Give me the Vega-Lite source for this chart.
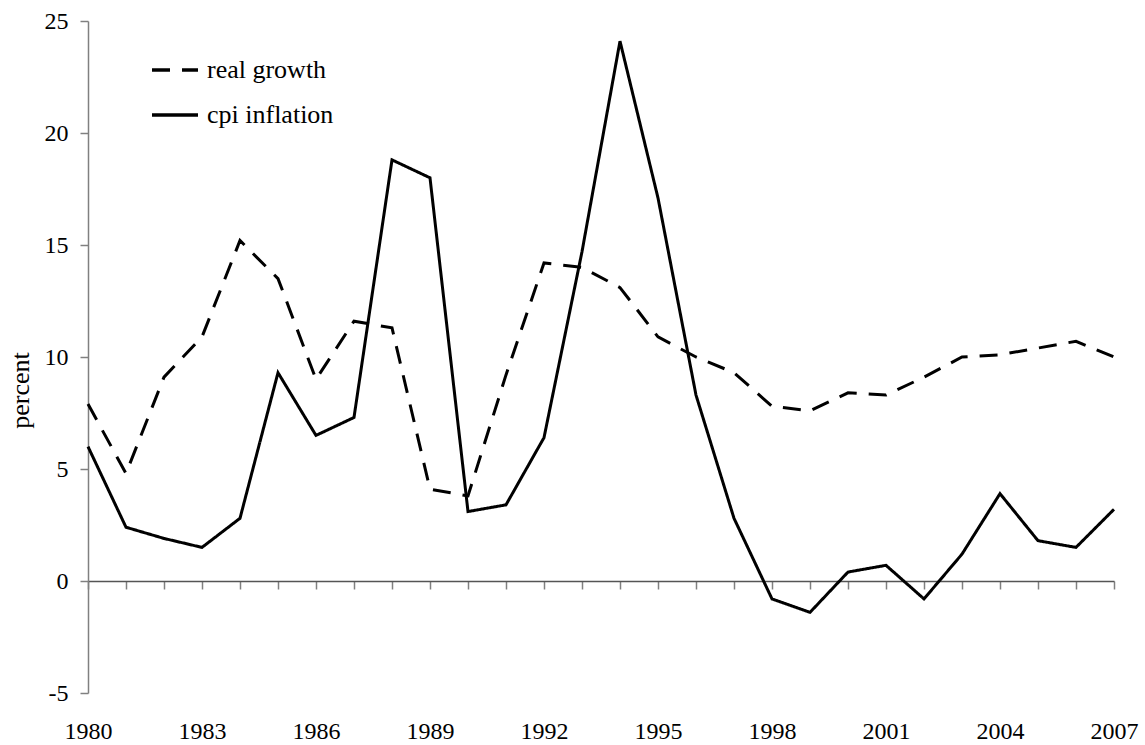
{
  "$schema": "https://vega.github.io/schema/vega-lite/v6.json",
  "width": 1026,
  "height": 672,
  "autosize": {"type": "none"},
  "padding": {"left": 88, "top": 21, "right": 31, "bottom": 52},
  "background": "white",
  "config": {
    "view": {"stroke": null},
    "font": "Liberation Serif",
    "axis": {"grid": false, "labelFont": "Liberation Serif", "titleFont": "Liberation Serif", "labelColor": "black", "titleColor": "black", "domainColor": "#808080", "tickColor": "#808080"}
  },
  "data": {
    "values": [
      {"year": 1980, "series": "real growth", "value": 7.9},
      {"year": 1981, "series": "real growth", "value": 4.8},
      {"year": 1982, "series": "real growth", "value": 9.1},
      {"year": 1983, "series": "real growth", "value": 10.9},
      {"year": 1984, "series": "real growth", "value": 15.2},
      {"year": 1985, "series": "real growth", "value": 13.5},
      {"year": 1986, "series": "real growth", "value": 9.0},
      {"year": 1987, "series": "real growth", "value": 11.6},
      {"year": 1988, "series": "real growth", "value": 11.3},
      {"year": 1989, "series": "real growth", "value": 4.1},
      {"year": 1990, "series": "real growth", "value": 3.8},
      {"year": 1991, "series": "real growth", "value": 9.2},
      {"year": 1992, "series": "real growth", "value": 14.2},
      {"year": 1993, "series": "real growth", "value": 14.0},
      {"year": 1994, "series": "real growth", "value": 13.1},
      {"year": 1995, "series": "real growth", "value": 10.9},
      {"year": 1996, "series": "real growth", "value": 10.0},
      {"year": 1997, "series": "real growth", "value": 9.3},
      {"year": 1998, "series": "real growth", "value": 7.8},
      {"year": 1999, "series": "real growth", "value": 7.6},
      {"year": 2000, "series": "real growth", "value": 8.4},
      {"year": 2001, "series": "real growth", "value": 8.3},
      {"year": 2002, "series": "real growth", "value": 9.1},
      {"year": 2003, "series": "real growth", "value": 10.0},
      {"year": 2004, "series": "real growth", "value": 10.1},
      {"year": 2005, "series": "real growth", "value": 10.4},
      {"year": 2006, "series": "real growth", "value": 10.7},
      {"year": 2007, "series": "real growth", "value": 10.0},
      {"year": 1980, "series": "cpi inflation", "value": 6.0},
      {"year": 1981, "series": "cpi inflation", "value": 2.4},
      {"year": 1982, "series": "cpi inflation", "value": 1.9},
      {"year": 1983, "series": "cpi inflation", "value": 1.5},
      {"year": 1984, "series": "cpi inflation", "value": 2.8},
      {"year": 1985, "series": "cpi inflation", "value": 9.3},
      {"year": 1986, "series": "cpi inflation", "value": 6.5},
      {"year": 1987, "series": "cpi inflation", "value": 7.3},
      {"year": 1988, "series": "cpi inflation", "value": 18.8},
      {"year": 1989, "series": "cpi inflation", "value": 18.0},
      {"year": 1990, "series": "cpi inflation", "value": 3.1},
      {"year": 1991, "series": "cpi inflation", "value": 3.4},
      {"year": 1992, "series": "cpi inflation", "value": 6.4},
      {"year": 1993, "series": "cpi inflation", "value": 14.7},
      {"year": 1994, "series": "cpi inflation", "value": 24.1},
      {"year": 1995, "series": "cpi inflation", "value": 17.1},
      {"year": 1996, "series": "cpi inflation", "value": 8.3},
      {"year": 1997, "series": "cpi inflation", "value": 2.8},
      {"year": 1998, "series": "cpi inflation", "value": -0.8},
      {"year": 1999, "series": "cpi inflation", "value": -1.4},
      {"year": 2000, "series": "cpi inflation", "value": 0.4},
      {"year": 2001, "series": "cpi inflation", "value": 0.7},
      {"year": 2002, "series": "cpi inflation", "value": -0.8},
      {"year": 2003, "series": "cpi inflation", "value": 1.2},
      {"year": 2004, "series": "cpi inflation", "value": 3.9},
      {"year": 2005, "series": "cpi inflation", "value": 1.8},
      {"year": 2006, "series": "cpi inflation", "value": 1.5},
      {"year": 2007, "series": "cpi inflation", "value": 3.2}
    ]
  },
  "mark": {"type": "line", "strokeWidth": 3, "strokeJoin": "miter", "strokeCap": "butt"},
  "encoding": {
    "x": {
      "field": "year",
      "type": "quantitative",
      "scale": {"domain": [1980, 2007], "nice": false, "zero": false},
      "axis": {
        "title": null,
        "offset": -112,
        "values": [1980,1981,1982,1983,1984,1985,1986,1987,1988,1989,1990,1991,1992,1993,1994,1995,1996,1997,1998,1999,2000,2001,2002,2003,2004,2005,2006,2007],
        "labelExpr": "(datum.value - 1980) % 3 == 0 ? toString(datum.value) : ''",
        "labelFontSize": 24,
        "labelPadding": 130,
        "labelBaseline": "top",
        "labelOverlap": false,
        "labelFlush": false,
        "tickSize": 8,
        "tickWidth": 1.5,
        "domainWidth": 1.5,
        "domainColor": "#555555"
      }
    },
    "y": {
      "field": "value",
      "type": "quantitative",
      "scale": {"domain": [-5, 25], "nice": false, "zero": false},
      "axis": {
        "title": "percent",
        "titleFontSize": 26,
        "titleFontWeight": "normal",
        "titleAngle": -90,
        "titleX": -68,
        "titleY": 369,
        "titleAlign": "center",
        "titleBaseline": "middle",
        "values": [-5, 0, 5, 10, 15, 20, 25],
        "labelExpr": "toString(datum.value)",
        "labelFontSize": 24,
        "labelPadding": 12,
        "tickSize": 8,
        "tickWidth": 1.5,
        "domainWidth": 1.5
      }
    },
    "color": {
      "field": "series",
      "type": "nominal",
      "scale": {"domain": ["real growth", "cpi inflation"], "range": ["black", "black"]},
      "legend": {
        "title": null,
        "orient": "none",
        "legendX": 62,
        "legendY": 24,
        "symbolType": "stroke",
        "symbolSize": 2116,
        "symbolStrokeWidth": 3.5,
        "labelFontSize": 26,
        "labelFont": "Liberation Serif",
        "labelColor": "black",
        "labelOffset": 7,
        "rowPadding": 7
      }
    },
    "strokeDash": {
      "field": "series",
      "type": "nominal",
      "scale": {"domain": ["real growth", "cpi inflation"], "range": [[18, 12], [1, 0]]},
      "legend": {
        "title": null,
        "orient": "none",
        "legendX": 62,
        "legendY": 24,
        "symbolType": "stroke",
        "symbolSize": 2116,
        "symbolStrokeWidth": 3.5,
        "labelFontSize": 26,
        "labelFont": "Liberation Serif",
        "labelColor": "black",
        "labelOffset": 7,
        "rowPadding": 7
      }
    }
  }
}
